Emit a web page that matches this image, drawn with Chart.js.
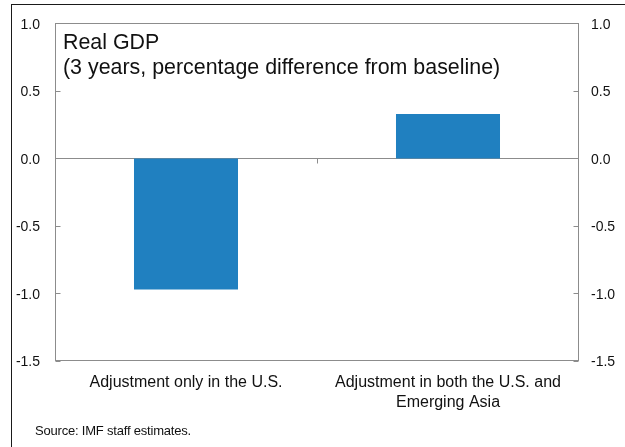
<!DOCTYPE html>
<html>
<head>
<meta charset="utf-8">
<script src="https://cdn.jsdelivr.net/npm/chart.js@4/dist/chart.umd.min.js"></script>
<style>
  html, body { margin: 0; padding: 0; background: #fff; overflow: hidden; }
  #wrap { position: relative; width: 625px; height: 447px; }
  #frame { position: absolute; left: 11px; top: 4px; width: 700px; height: 600px; border: 1px solid #1a1a1a; box-sizing: border-box; }
  canvas { position: absolute; left: 0; top: 0; }
</style>
</head>
<body>
<div id="wrap">
  <div id="frame"></div>
  <canvas id="c" width="625" height="447"></canvas>
</div>
<script>
const categories = [
  "Adjustment only in the U.S.",
  ["Adjustment in both the U.S. and", "Emerging Asia"]
];
const realGdp = [-0.97, 0.33];
const yMin = -1.5, yMax = 1.0, yStep = 0.5;
const titleLines = ["Real GDP", "(3 years, percentage difference from baseline)"];
const sourceText = "Source: IMF staff estimates.";

const FONT = "'Liberation Sans', Arial, sans-serif";
const GRAY = "#8c8c8c";

const decor = {
  id: "decor",
  beforeDatasetsDraw(chart) {
    const ctx = chart.ctx, a = chart.chartArea, y = chart.scales.y;
    const y0 = Math.round(y.getPixelForValue(0)) + 0.5;
    ctx.save();
    ctx.strokeStyle = GRAY; ctx.lineWidth = 1;
    ctx.beginPath(); ctx.moveTo(a.left, y0); ctx.lineTo(a.right, y0); ctx.stroke();
    const x = chart.scales.x;
    for (let i = 0; i < categories.length - 1; i++) {
      const xb = Math.round((x.getPixelForValue(i) + x.getPixelForValue(i + 1)) / 2) + 0.5;
      ctx.beginPath(); ctx.moveTo(xb, y0); ctx.lineTo(xb, y0 + 5); ctx.stroke();
    }
    ctx.restore();
  },
  afterDraw(chart) {
    const ctx = chart.ctx, a = chart.chartArea, y = chart.scales.y;
    ctx.save();
    ctx.strokeStyle = GRAY; ctx.lineWidth = 1;
    const L = Math.round(a.left) + 0.5, R = Math.round(a.right) - 0.5;
    const T = Math.round(a.top) + 0.5, B = Math.round(a.bottom) - 0.5;
    ctx.strokeRect(L, T, R - L, B - T);
    y.ticks.forEach(t => {
      const py = Math.round(y.getPixelForValue(t.value)) + 0.5;
      ctx.beginPath();
      ctx.moveTo(L, py); ctx.lineTo(L + 5, py);
      ctx.moveTo(R, py); ctx.lineTo(R - 5, py);
      ctx.stroke();
    });
    ctx.fillStyle = "#111";
    ctx.textAlign = "left"; ctx.textBaseline = "alphabetic";
    ctx.font = "21.4px " + FONT;
    titleLines.forEach((s, i) => ctx.fillText(s, a.left + 8, a.top + 26 + i * 25));
    ctx.font = "13px " + FONT;
    ctx.letterSpacing = "-0.2px";
    ctx.fillText(sourceText, 35, 435);
    ctx.restore();
  }
};

new Chart(document.getElementById("c"), {
  type: "bar",
  data: {
    labels: categories,
    datasets: [{
      data: realGdp,
      backgroundColor: "#2080c0",
      borderWidth: 0,
      categoryPercentage: 1,
      barPercentage: 0.397
    }]
  },
  options: {
    responsive: false,
    animation: false,
    events: [],
    layout: { padding: { top: 22, left: 0, right: 0, bottom: 0 } },
    plugins: { legend: { display: false }, tooltip: { enabled: false }, title: { display: false } },
    scales: {
      x: {
        grid: { display: false, drawTicks: false },
        border: { display: false },
        ticks: { color: "#111", font: { family: FONT, size: 16, lineHeight: 1.25 }, padding: 12, maxRotation: 0, autoSkip: false },
        afterFit(s) { s.height = 86; }
      },
      y: {
        position: "left",
        min: yMin, max: yMax,
        grid: { display: false, drawTicks: false },
        border: { display: false },
        ticks: { stepSize: yStep, color: "#111", font: { family: FONT, size: 14 }, padding: 15, labelOffset: 1.5, callback: v => Number(v).toFixed(1) },
        afterFit(s) { s.width = 55; }
      },
      y2: {
        position: "right",
        min: yMin, max: yMax,
        grid: { display: false, drawTicks: false },
        border: { display: false },
        ticks: { stepSize: yStep, color: "#111", font: { family: FONT, size: 14 }, padding: 12, labelOffset: 1.5, callback: v => Number(v).toFixed(1) },
        afterFit(s) { s.width = 46; }
      }
    }
  },
  plugins: [decor]
});
</script>
</body>
</html>
